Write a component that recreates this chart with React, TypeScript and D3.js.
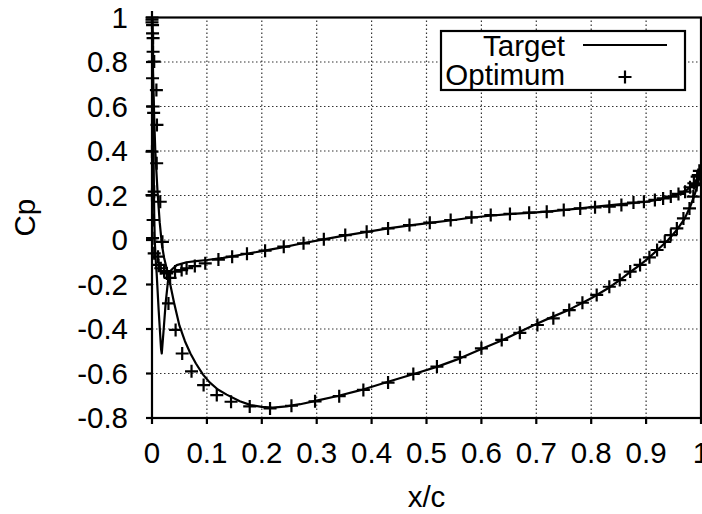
import * as d3 from 'd3'
import { useEffect, useRef } from 'react'

// pressure coefficient along the chord
const targetLowerX = [0, 0.002, 0.004, 0.006, 0.01, 0.014, 0.018, 0.022, 0.026, 0.03, 0.035, 0.04, 0.05, 0.06, 0.07, 0.08, 0.093, 0.105, 0.12, 0.136, 0.16, 0.18, 0.2, 0.22, 0.245, 0.27, 0.3, 0.34, 0.38, 0.43, 0.48, 0.52, 0.56, 0.6, 0.64, 0.67, 0.7, 0.725, 0.76, 0.8, 0.83, 0.852, 0.87, 0.889, 0.905, 0.925, 0.94, 0.956, 0.97, 0.98, 0.988, 0.994, 1.0]
const targetLowerCp = [1.0, 0.75, 0.55, 0.4, 0.22, 0.08, -0.02, -0.08, -0.12, -0.16, -0.22, -0.28, -0.385, -0.455, -0.51, -0.555, -0.605, -0.64, -0.672, -0.695, -0.725, -0.742, -0.75, -0.753, -0.748, -0.738, -0.722, -0.7, -0.675, -0.637, -0.6, -0.569, -0.533, -0.49, -0.448, -0.412, -0.378, -0.35, -0.313, -0.262, -0.218, -0.18, -0.146, -0.112, -0.08, -0.035, 0.0, 0.045, 0.095, 0.148, 0.2, 0.25, 0.31]

const targetUpperX = [0, 0.001, 0.002, 0.003, 0.004, 0.005, 0.007, 0.0085, 0.012, 0.0165, 0.0178, 0.021, 0.025, 0.03, 0.035, 0.045, 0.063, 0.08, 0.1, 0.13, 0.17, 0.2, 0.24, 0.27, 0.31, 0.35, 0.4, 0.43, 0.47, 0.51, 0.55, 0.58, 0.62, 0.65, 0.7, 0.73, 0.78, 0.8, 0.85, 0.9, 0.92, 0.944, 0.96, 0.974, 0.985, 0.992, 1.0]
const targetUpperCp = [1.0, 0.8, 0.6, 0.35, 0.12, 0.0, -0.1, -0.15, -0.31, -0.49, -0.51, -0.41, -0.28, -0.165, -0.135, -0.113, -0.1, -0.095, -0.09, -0.08, -0.063, -0.05, -0.032, -0.017, 0.002, 0.02, 0.04, 0.052, 0.066, 0.078, 0.09, 0.1, 0.11, 0.116, 0.124, 0.13, 0.142, 0.148, 0.16, 0.172, 0.18, 0.195, 0.207, 0.225, 0.245, 0.27, 0.31]

const optLowerX = [0, 0.001, 0.002, 0.004, 0.008, 0.009, 0.0085, 0.015, 0.019, 0.033, 0.03, 0.043, 0.055, 0.072, 0.094, 0.118, 0.144, 0.178, 0.215, 0.254, 0.297, 0.341, 0.385, 0.43, 0.476, 0.519, 0.561, 0.6, 0.637, 0.67, 0.702, 0.731, 0.76, 0.784, 0.81, 0.833, 0.852, 0.871, 0.889, 0.906, 0.92, 0.934, 0.945, 0.956, 0.968, 0.979, 0.986, 0.992, 0.995]
const optLowerCp = [1.0, 0.966, 0.907, 0.802, 0.674, 0.517, 0.345, 0.172, -0.008, -0.17, -0.285, -0.404, -0.51, -0.59, -0.652, -0.697, -0.727, -0.748, -0.757, -0.745, -0.725, -0.702, -0.674, -0.641, -0.602, -0.569, -0.527, -0.487, -0.449, -0.417, -0.382, -0.352, -0.315, -0.282, -0.247, -0.21, -0.18, -0.142, -0.112, -0.078, -0.045, -0.008, 0.022, 0.052, 0.097, 0.142, 0.195, 0.247, 0.292]

const optUpperX = [0, 0, 0.001, 0.002, 0.001, 0.002, 0.003, 0, 0.004, 0, 0.002, 0.001, 0.011, 0.004, 0.012, 0.016, 0.022, 0.027, 0.042, 0.054, 0.063, 0.078, 0.097, 0.121, 0.146, 0.173, 0.206, 0.24, 0.276, 0.313, 0.352, 0.391, 0.43, 0.469, 0.506, 0.544, 0.582, 0.617, 0.652, 0.687, 0.719, 0.75, 0.78, 0.807, 0.833, 0.855, 0.877, 0.896, 0.916, 0.931, 0.945, 0.959, 0.971, 0.98, 0.987, 0.993, 0.997]
const optUpperCp = [0.99, 0.978, 0.929, 0.846, 0.727, 0.6, 0.571, 0.397, 0.217, 0.202, 0.09, 0.008, -0.075, -0.06, -0.112, -0.127, -0.14, -0.15, -0.142, -0.135, -0.127, -0.117, -0.105, -0.088, -0.075, -0.062, -0.048, -0.03, -0.015, 0.003, 0.022, 0.037, 0.052, 0.067, 0.078, 0.09, 0.102, 0.112, 0.117, 0.123, 0.127, 0.135, 0.142, 0.147, 0.15, 0.157, 0.168, 0.172, 0.18, 0.187, 0.195, 0.207, 0.217, 0.237, 0.255, 0.285, 0.311]

const xTicks = [0, 0.1, 0.2, 0.3, 0.4, 0.5, 0.6, 0.7, 0.8, 0.9, 1]
const xTickLabels = ['0', '0.1', '0.2', '0.3', '0.4', '0.5', '0.6', '0.7', '0.8', '0.9', '1']
const yTicks = [1, 0.8, 0.6, 0.4, 0.2, 0, -0.2, -0.4, -0.6, -0.8]
const yTickLabels = ['1', '0.8', '0.6', '0.4', '0.2', '0', '-0.2', '-0.4', '-0.6', '-0.8']

const W = 702
const H = 514
const FONT = '"Liberation Sans", Arial, sans-serif'
const FS = 29.5

export default function App() {
    const svgRef = useRef(null)

    useEffect(() => {
        const svg = d3.select(svgRef.current)
        svg.selectAll('*').remove()

        const x = d3.scaleLinear().domain([0, 1]).range([152, 701])
        const y = d3.scaleLinear().domain([-0.8, 1]).range([418, 17.5])
        const [x0, x1] = x.range()
        const [y0, y1] = y.range()

        // dotted grid
        const grid = svg.append('g').attr('stroke', '#333').attr('stroke-width', 1.2).attr('stroke-dasharray', '1.5,2.5')
        xTicks.filter(t => t > 0 && t < 1).forEach(t => {
            grid.append('line').attr('x1', x(t)).attr('x2', x(t)).attr('y1', y0).attr('y2', y1)
        })
        yTicks.filter(t => t > -0.8 && t < 1).forEach(t => {
            grid.append('line').attr('x1', x0).attr('x2', x1).attr('y1', y(t)).attr('y2', y(t))
        })

        // target curves
        const line = d3.line().x(d => x(d[0])).y(d => y(d[1]))
        const lower = targetLowerX.map((v, i) => [v, targetLowerCp[i]])
        const upper = targetUpperX.map((v, i) => [v, targetUpperCp[i]])
        ;[lower, upper].forEach(pts => {
            svg.append('path').attr('d', line(pts)).attr('fill', 'none')
                .attr('stroke', 'black').attr('stroke-width', 2.2).attr('stroke-linejoin', 'round')
        })

        // optimum plus markers
        const plus = (cx, cy, s = 6.5) => `M${cx - s},${cy}h${2 * s}M${cx},${cy - s}v${2 * s}`
        const optPts = [
            ...optLowerX.map((v, i) => [v, optLowerCp[i]]),
            ...optUpperX.map((v, i) => [v, optUpperCp[i]]),
        ]
        svg.append('path')
            .attr('d', optPts.map(d => plus(x(d[0]), y(d[1]))).join(''))
            .attr('stroke', 'black').attr('stroke-width', 2.2).attr('fill', 'none')

        // frame + ticks
        svg.append('rect').attr('x', x0).attr('y', y1).attr('width', x1 - x0).attr('height', y0 - y1)
            .attr('fill', 'none').attr('stroke', 'black').attr('stroke-width', 2.2)
        const ticks = svg.append('g').attr('stroke', 'black').attr('stroke-width', 2.2)
        xTicks.forEach(t => ticks.append('line').attr('x1', x(t)).attr('x2', x(t)).attr('y1', y0).attr('y2', y0 + 6))
        yTicks.forEach(t => ticks.append('line').attr('x1', x0 - 6).attr('x2', x0).attr('y1', y(t)).attr('y2', y(t)))

        const txt = svg.append('g').attr('font-family', FONT).attr('font-size', FS).attr('fill', 'black')
        xTicks.forEach((t, i) => {
            txt.append('text').attr('x', x(t)).attr('y', 463).attr('text-anchor', 'middle').text(xTickLabels[i])
        })
        yTicks.forEach((t, i) => {
            txt.append('text').attr('x', 128).attr('y', y(t)).attr('dy', '0.35em').attr('text-anchor', 'end').text(yTickLabels[i])
        })
        txt.append('text').attr('x', (x0 + x1) / 2).attr('y', 507).attr('text-anchor', 'middle').text('x/c')
        txt.append('text').attr('transform', `translate(35,${(y0 + y1) / 2}) rotate(-90)`)
            .attr('text-anchor', 'middle').text('Cp')

        // legend
        const lg = svg.append('g')
        lg.append('rect').attr('x', 441).attr('y', 31).attr('width', 244).attr('height', 59)
            .attr('fill', 'white').attr('stroke', 'black').attr('stroke-width', 2.2)
        lg.append('text').attr('x', 565).attr('y', 56).attr('text-anchor', 'end')
            .attr('font-family', FONT).attr('font-size', FS).text('Target')
        lg.append('text').attr('x', 565).attr('y', 85).attr('text-anchor', 'end')
            .attr('font-family', FONT).attr('font-size', FS).text('Optimum')
        lg.append('line').attr('x1', 583).attr('x2', 667).attr('y1', 45).attr('y2', 45)
            .attr('stroke', 'black').attr('stroke-width', 2.2)
        lg.append('path').attr('d', plus(625, 77)).attr('stroke', 'black').attr('stroke-width', 2.2)
    }, [])

    return (
        <>
            <style>{'body{margin:0}'}</style>
            <svg ref={svgRef} width={W} height={H} style={{ display: 'block', background: 'white' }}></svg>
        </>
    )
}
